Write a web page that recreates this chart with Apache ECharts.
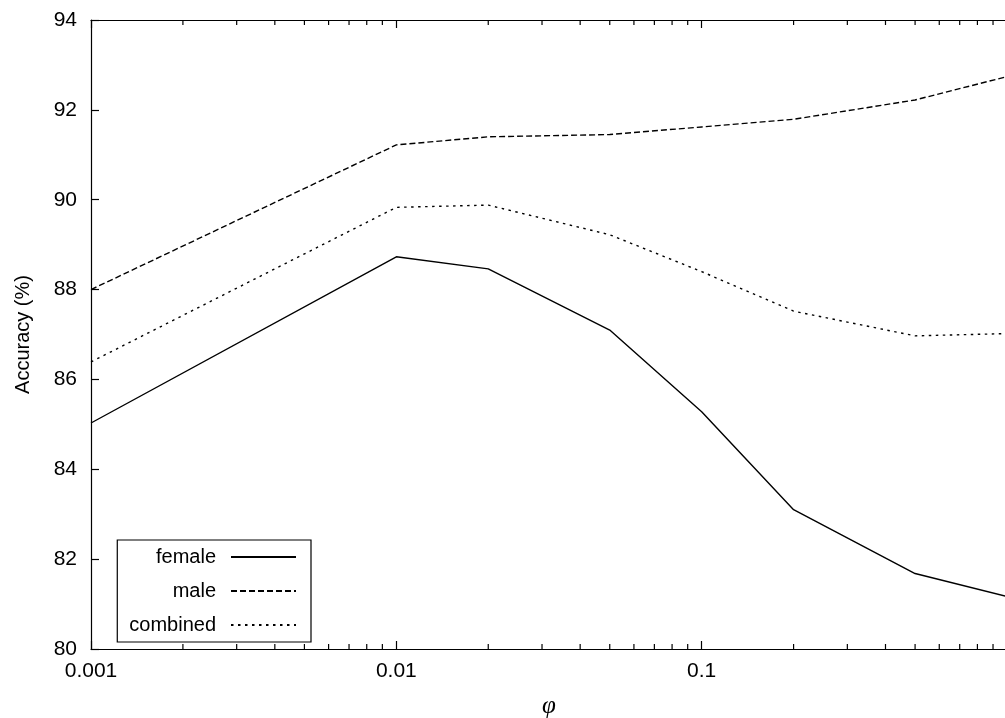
<!DOCTYPE html>
<html>
<head>
<meta charset="utf-8">
<script src="https://cdn.jsdelivr.net/npm/echarts@6/dist/echarts.min.js"></script>
<style>
html,body{margin:0;padding:0;background:#fff;}
#chart{width:1005px;height:718px;}
</style>
</head>
<body>
<div id="chart"></div>
<script>
// ---- data ----
var phiValues = [0.001, 0.01, 0.02, 0.05, 0.1, 0.2, 0.5, 1];
var female   = [85.03, 88.73, 88.46, 87.10, 85.28, 83.10, 81.68, 81.17];
var male     = [88.00, 91.22, 91.40, 91.45, 91.62, 91.79, 92.22, 92.74];
var combined = [86.39, 89.83, 89.88, 89.22, 88.40, 87.52, 86.97, 87.02];
var seriesNames = ['female', 'male', 'combined'];
var minorTicks = [0.002,0.003,0.004,0.005,0.006,0.007,0.008,0.009,
                  0.02,0.03,0.04,0.05,0.06,0.07,0.08,0.09,
                  0.2,0.3,0.4,0.5,0.6,0.7,0.8,0.9];
var yMin = 80, yMax = 94, yStep = 2;
var xMin = 0.001, xMax = 1;

function pairs(xs, ys){ return xs.map(function(x,i){ return [x, ys[i]]; }); }

var FONT = 'Liberation Sans';
var chart = echarts.init(document.getElementById('chart'), null, {renderer:'canvas'});

var lineCommon = {
  type: 'line', symbol: 'none', smooth: false, animation: false,
  xAxisIndex: 0, yAxisIndex: 0
};

chart.setOption({
  animation: false,
  backgroundColor: '#fff',
  grid: { left: 91, top: 20, width: 916, bottom: 69, containLabel: false, outerBoundsMode: 'none' },
  xAxis: [{
    type: 'log', logBase: 10, min: xMin, max: xMax, position: 'bottom',
    name: 'φ', nameLocation: 'middle', nameGap: 45,
    nameTextStyle: { fontFamily: 'Liberation Serif', fontStyle: 'italic', fontSize: 25, color: '#000' },
    axisLine: { show: true, onZero: false, lineStyle: { color: '#000', width: 1.2 } },
    axisTick: { show: true, inside: true, length: 8, lineStyle: { color: '#000', width: 1.2 } },
    minorTick: { show: false },
    splitLine: { show: false },
    axisLabel: { show: true, margin: 12, fontFamily: FONT, fontSize: 21, color: '#000', showMaxLabel: false,
      formatter: function(v){ return String(v); } }
  },{
    type: 'log', logBase: 10, min: xMin, max: xMax, position: 'top',
    axisLine: { show: true, onZero: false, lineStyle: { color: '#000', width: 1.2 } },
    axisTick: { show: true, inside: true, length: 8, lineStyle: { color: '#000', width: 1.2 } },
    splitLine: { show: false },
    axisLabel: { show: false }
  }],
  yAxis: [{
    type: 'value', min: yMin, max: yMax, interval: yStep, position: 'left',
    name: 'Accuracy (%)', nameLocation: 'middle', nameGap: 58, nameRotate: 90,
    nameTextStyle: { fontFamily: FONT, fontSize: 20, color: '#000' },
    axisLine: { show: true, onZero: false, lineStyle: { color: '#000', width: 1.2 } },
    axisTick: { show: true, inside: true, length: 8, lineStyle: { color: '#000', width: 1.2 } },
    splitLine: { show: false },
    axisLabel: { margin: 14, fontFamily: FONT, fontSize: 21, color: '#000' }
  }],
  legend: {
    show: true, orient: 'vertical', align: 'right',
    right: 694, top: 540,
    data: seriesNames,
    backgroundColor: '#fff', borderColor: '#000', borderWidth: 1.2, borderRadius: 0,
    padding: [5, 14, 5, 12],
    itemWidth: 65, itemHeight: 14, itemGap: 10,
    itemStyle: { color: 'rgba(0,0,0,0)', borderColor: 'rgba(0,0,0,0)', borderWidth: 0, opacity: 0 },
    textStyle: { fontFamily: FONT, fontSize: 20, color: '#000', lineHeight: 24, padding: [0, 10, 0, 0] },
    selectedMode: false
  },
  series: [
    Object.assign({}, lineCommon, { name: seriesNames[0], data: pairs(phiValues, female),
      lineStyle: { color: '#000', width: 1.4, type: 'solid' }, itemStyle: { color: '#000' } }),
    Object.assign({}, lineCommon, { name: seriesNames[1], data: pairs(phiValues, male),
      lineStyle: { color: '#000', width: 1.4, type: [6, 3] }, itemStyle: { color: '#000' } }),
    Object.assign({}, lineCommon, { name: seriesNames[2], data: pairs(phiValues, combined),
      lineStyle: { color: '#000', width: 1.4, type: [2.5, 4.5] }, itemStyle: { color: '#000' } }),
    {
      type: 'custom', name: 'minorTicks', silent: true, clip: false,
      xAxisIndex: 0, yAxisIndex: 0,
      data: minorTicks.map(function(v){ return [v, yMin]; }),
      renderItem: function(params, api){
        var v = api.value(0);
        var b = api.coord([v, yMin]);
        var t = api.coord([v, yMax]);
        return { type: 'group', children: [
          { type: 'line', shape: { x1: b[0], y1: b[1], x2: b[0], y2: b[1] - 5 }, style: { stroke: '#000', lineWidth: 1.2 } },
          { type: 'line', shape: { x1: t[0], y1: t[1], x2: t[0], y2: t[1] + 5 }, style: { stroke: '#000', lineWidth: 1.2 } }
        ]};
      }
    }
  ]
});
</script>
</body>
</html>
